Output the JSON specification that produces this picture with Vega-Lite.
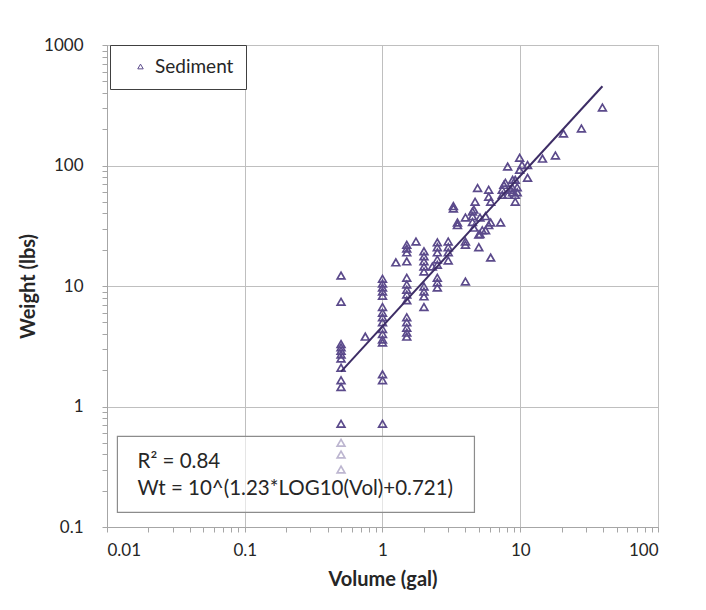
{
  "$schema": "https://vega.github.io/schema/vega-lite/v6.json",
  "width": 551,
  "height": 482,
  "autosize": {"type": "none"},
  "padding": {"left": 107, "top": 45, "right": 48, "bottom": 83},
  "background": "white",
  "config": {
    "font": "Lato",
    "view": {"stroke": "#a6a6a6", "strokeWidth": 1},
    "axis": {
      "domainColor": "#a6a6a6",
      "tickColor": "#a6a6a6",
      "labelFont": "Lato",
      "labelFontSize": 17,
      "labelColor": "#262626",
      "titleFont": "Lato",
      "titleFontSize": 20,
      "titleFontWeight": "bold",
      "titleColor": "#262626",
      "gridColor": "#bfbfbf",
      "gridWidth": 1,
      "tickSize": 5
    }
  },
  "datasets": {
    "pts": [
      {"vol": 0.5, "wt": 12.2, "series": "Sediment"},
      {"vol": 0.5, "wt": 7.4, "series": "Sediment"},
      {"vol": 0.5, "wt": 3.3, "series": "Sediment"},
      {"vol": 0.5, "wt": 3.1, "series": "Sediment"},
      {"vol": 0.5, "wt": 2.9, "series": "Sediment"},
      {"vol": 0.5, "wt": 2.7, "series": "Sediment"},
      {"vol": 0.5, "wt": 2.5, "series": "Sediment"},
      {"vol": 0.5, "wt": 2.1, "series": "Sediment"},
      {"vol": 0.5, "wt": 1.65, "series": "Sediment"},
      {"vol": 0.5, "wt": 1.45, "series": "Sediment"},
      {"vol": 0.5, "wt": 0.72, "series": "Sediment"},
      {"vol": 0.5, "wt": 0.5, "series": "Sediment"},
      {"vol": 0.5, "wt": 0.4, "series": "Sediment"},
      {"vol": 0.5, "wt": 0.3, "series": "Sediment"},
      {"vol": 0.75, "wt": 3.8, "series": "Sediment"},
      {"vol": 1, "wt": 11.5, "series": "Sediment"},
      {"vol": 1, "wt": 10.5, "series": "Sediment"},
      {"vol": 1, "wt": 9.7, "series": "Sediment"},
      {"vol": 1, "wt": 9.0, "series": "Sediment"},
      {"vol": 1, "wt": 8.3, "series": "Sediment"},
      {"vol": 1, "wt": 6.7, "series": "Sediment"},
      {"vol": 1, "wt": 6.0, "series": "Sediment"},
      {"vol": 1, "wt": 5.5, "series": "Sediment"},
      {"vol": 1, "wt": 5.0, "series": "Sediment"},
      {"vol": 1, "wt": 4.4, "series": "Sediment"},
      {"vol": 1, "wt": 4.0, "series": "Sediment"},
      {"vol": 1, "wt": 3.6, "series": "Sediment"},
      {"vol": 1, "wt": 3.4, "series": "Sediment"},
      {"vol": 1, "wt": 1.85, "series": "Sediment"},
      {"vol": 1, "wt": 1.65, "series": "Sediment"},
      {"vol": 1, "wt": 0.72, "series": "Sediment"},
      {"vol": 1.25, "wt": 15.7, "series": "Sediment"},
      {"vol": 1.5, "wt": 22, "series": "Sediment"},
      {"vol": 1.5, "wt": 20.5, "series": "Sediment"},
      {"vol": 1.5, "wt": 19, "series": "Sediment"},
      {"vol": 1.5, "wt": 16, "series": "Sediment"},
      {"vol": 1.5, "wt": 11.7, "series": "Sediment"},
      {"vol": 1.5, "wt": 10.3, "series": "Sediment"},
      {"vol": 1.5, "wt": 9.3, "series": "Sediment"},
      {"vol": 1.5, "wt": 8.5, "series": "Sediment"},
      {"vol": 1.5, "wt": 7.6, "series": "Sediment"},
      {"vol": 1.5, "wt": 5.5, "series": "Sediment"},
      {"vol": 1.5, "wt": 5.0, "series": "Sediment"},
      {"vol": 1.5, "wt": 4.5, "series": "Sediment"},
      {"vol": 1.5, "wt": 4.1, "series": "Sediment"},
      {"vol": 1.5, "wt": 3.8, "series": "Sediment"},
      {"vol": 1.75, "wt": 23.4, "series": "Sediment"},
      {"vol": 2, "wt": 19.4, "series": "Sediment"},
      {"vol": 2, "wt": 17.6, "series": "Sediment"},
      {"vol": 2, "wt": 16, "series": "Sediment"},
      {"vol": 2, "wt": 14.5, "series": "Sediment"},
      {"vol": 2, "wt": 13.2, "series": "Sediment"},
      {"vol": 2, "wt": 9.9, "series": "Sediment"},
      {"vol": 2, "wt": 9.0, "series": "Sediment"},
      {"vol": 2, "wt": 8.2, "series": "Sediment"},
      {"vol": 2, "wt": 6.7, "series": "Sediment"},
      {"vol": 2.3, "wt": 14.5, "series": "Sediment"},
      {"vol": 2.5, "wt": 23, "series": "Sediment"},
      {"vol": 2.5, "wt": 21, "series": "Sediment"},
      {"vol": 2.5, "wt": 19, "series": "Sediment"},
      {"vol": 2.5, "wt": 16.6, "series": "Sediment"},
      {"vol": 2.5, "wt": 15, "series": "Sediment"},
      {"vol": 2.5, "wt": 11.7, "series": "Sediment"},
      {"vol": 2.5, "wt": 10.7, "series": "Sediment"},
      {"vol": 2.5, "wt": 9.7, "series": "Sediment"},
      {"vol": 3, "wt": 23.4, "series": "Sediment"},
      {"vol": 3, "wt": 21, "series": "Sediment"},
      {"vol": 3, "wt": 19, "series": "Sediment"},
      {"vol": 3, "wt": 16.3, "series": "Sediment"},
      {"vol": 3.27, "wt": 46, "series": "Sediment"},
      {"vol": 3.27, "wt": 44, "series": "Sediment"},
      {"vol": 3.5, "wt": 33.6, "series": "Sediment"},
      {"vol": 3.5, "wt": 32, "series": "Sediment"},
      {"vol": 4, "wt": 37, "series": "Sediment"},
      {"vol": 4, "wt": 23.4, "series": "Sediment"},
      {"vol": 4, "wt": 22, "series": "Sediment"},
      {"vol": 4, "wt": 10.9, "series": "Sediment"},
      {"vol": 4.5, "wt": 41.5, "series": "Sediment"},
      {"vol": 4.5, "wt": 38, "series": "Sediment"},
      {"vol": 4.5, "wt": 34, "series": "Sediment"},
      {"vol": 4.6, "wt": 43, "series": "Sediment"},
      {"vol": 4.6, "wt": 30.5, "series": "Sediment"},
      {"vol": 4.7, "wt": 50, "series": "Sediment"},
      {"vol": 4.9, "wt": 65, "series": "Sediment"},
      {"vol": 5, "wt": 26.7, "series": "Sediment"},
      {"vol": 5, "wt": 21, "series": "Sediment"},
      {"vol": 5.1, "wt": 37, "series": "Sediment"},
      {"vol": 5.1, "wt": 27, "series": "Sediment"},
      {"vol": 5.3, "wt": 29, "series": "Sediment"},
      {"vol": 5.6, "wt": 29, "series": "Sediment"},
      {"vol": 5.6, "wt": 38, "series": "Sediment"},
      {"vol": 5.9, "wt": 63, "series": "Sediment"},
      {"vol": 5.9, "wt": 55, "series": "Sediment"},
      {"vol": 5.9, "wt": 32, "series": "Sediment"},
      {"vol": 6.1, "wt": 50, "series": "Sediment"},
      {"vol": 6.1, "wt": 33.6, "series": "Sediment"},
      {"vol": 6.1, "wt": 17.2, "series": "Sediment"},
      {"vol": 7.2, "wt": 33.6, "series": "Sediment"},
      {"vol": 7.4, "wt": 63, "series": "Sediment"},
      {"vol": 7.4, "wt": 57, "series": "Sediment"},
      {"vol": 7.6, "wt": 69, "series": "Sediment"},
      {"vol": 7.8, "wt": 72, "series": "Sediment"},
      {"vol": 8.1, "wt": 98, "series": "Sediment"},
      {"vol": 8.1, "wt": 57, "series": "Sediment"},
      {"vol": 8.5, "wt": 63, "series": "Sediment"},
      {"vol": 8.8, "wt": 76, "series": "Sediment"},
      {"vol": 8.8, "wt": 65, "series": "Sediment"},
      {"vol": 8.8, "wt": 60, "series": "Sediment"},
      {"vol": 9.2, "wt": 76, "series": "Sediment"},
      {"vol": 9.2, "wt": 57, "series": "Sediment"},
      {"vol": 9.2, "wt": 50, "series": "Sediment"},
      {"vol": 9.5, "wt": 66, "series": "Sediment"},
      {"vol": 9.5, "wt": 60, "series": "Sediment"},
      {"vol": 9.9, "wt": 116, "series": "Sediment"},
      {"vol": 9.9, "wt": 92, "series": "Sediment"},
      {"vol": 10.3, "wt": 101, "series": "Sediment"},
      {"vol": 11.3, "wt": 101, "series": "Sediment"},
      {"vol": 11.3, "wt": 79, "series": "Sediment"},
      {"vol": 14.5, "wt": 114, "series": "Sediment"},
      {"vol": 18, "wt": 121, "series": "Sediment"},
      {"vol": 20.6, "wt": 184, "series": "Sediment"},
      {"vol": 27.8, "wt": 203, "series": "Sediment"},
      {"vol": 39.5, "wt": 303, "series": "Sediment"}
    ],
    "fit": [
      {"vol": 0.5, "wt": 1.95},
      {"vol": 39.5, "wt": 455}
    ]
  },
  "layer": [
    {
      "data": {"name": "pts"},
      "mark": {"type": "point", "shape": "triangle-up", "filled": false, "size": 60, "strokeWidth": 1.7, "opacity": 1},
      "encoding": {
        "x": {
          "field": "vol", "type": "quantitative",
          "scale": {"type": "log", "domain": [0.01, 100], "nice": false},
          "title": "Volume (gal)",
          "axis": {
            "values": [0.01,0.02,0.03,0.04,0.05,0.06,0.07,0.08,0.09,0.1,0.2,0.3,0.4,0.5,0.6,0.7,0.8,0.9,1,2,3,4,5,6,7,8,9,10,20,30,40,50,60,70,80,90,100],
            "labelExpr": "abs(log(datum.value)/LN10 - round(log(datum.value)/LN10)) < 1e-6 ? format(datum.value, '~g') : ''",
            "gridOpacity": {"condition": {"test": "abs(log(datum.value)/LN10 - round(log(datum.value)/LN10)) < 1e-6", "value": 1}, "value": 0},
            "labelPadding": 10,
            "titlePadding": 11,
            "labelOverlap": false
          }
        },
        "y": {
          "field": "wt", "type": "quantitative",
          "scale": {"type": "log", "domain": [0.1, 1000], "nice": false},
          "title": "Weight (lbs)",
          "axis": {
            "values": [0.1,0.2,0.3,0.4,0.5,0.6,0.7,0.8,0.9,1,2,3,4,5,6,7,8,9,10,20,30,40,50,60,70,80,90,100,200,300,400,500,600,700,800,900,1000],
            "labelExpr": "abs(log(datum.value)/LN10 - round(log(datum.value)/LN10)) < 1e-6 ? format(datum.value, '~g') : ''",
            "gridOpacity": {"condition": {"test": "abs(log(datum.value)/LN10 - round(log(datum.value)/LN10)) < 1e-6", "value": 1}, "value": 0},
            "labelPadding": 19,
            "titlePadding": 5,
            "labelOverlap": false
          }
        },
        "color": {
          "field": "series", "type": "nominal",
          "scale": {"range": ["#5b4a8b"]},
          "legend": {
            "title": null,
            "orient": "none",
            "legendX": 3,
            "legendY": 0,
            "strokeColor": "#404040",
            "fillColor": "white",
            "padding": 12,
            "symbolType": "triangle-up",
            "symbolSize": 30,
            "symbolStrokeWidth": 1,
            "symbolOffset": 9,
            "labelOffset": 5,
            "labelFont": "Lato",
            "labelFontSize": 19,
            "labelColor": "#262626"
          }
        }
      }
    },
    {
      "data": {"name": "fit"},
      "mark": {"type": "line", "color": "#3d2d66", "strokeWidth": 2},
      "encoding": {
        "x": {"field": "vol", "type": "quantitative"},
        "y": {"field": "wt", "type": "quantitative"}
      }
    },
    {
      "data": {"values": [{}]},
      "mark": {"type": "rect", "fill": "white", "fillOpacity": 0.6, "stroke": "#8c8c8c", "strokeWidth": 1.2},
      "encoding": {
        "x": {"datum": 0.0119, "type": "quantitative"},
        "x2": {"datum": 4.65},
        "y": {"datum": 0.564, "type": "quantitative"},
        "y2": {"datum": 0.132}
      }
    },
    {
      "data": {"values": [{}]},
      "mark": {"type": "text", "text": "R² = 0.84", "align": "left", "baseline": "middle", "font": "Lato", "fontSize": 20.5, "color": "#262626"},
      "encoding": {
        "x": {"datum": 0.01667, "type": "quantitative"},
        "y": {"datum": 0.343, "type": "quantitative"}
      }
    },
    {
      "data": {"values": [{}]},
      "mark": {"type": "text", "text": "Wt = 10^(1.23*LOG10(Vol)+0.721)", "align": "left", "baseline": "middle", "font": "Lato", "fontSize": 20.5, "color": "#262626"},
      "encoding": {
        "x": {"datum": 0.01667, "type": "quantitative"},
        "y": {"datum": 0.205, "type": "quantitative"}
      }
    }
  ]
}
